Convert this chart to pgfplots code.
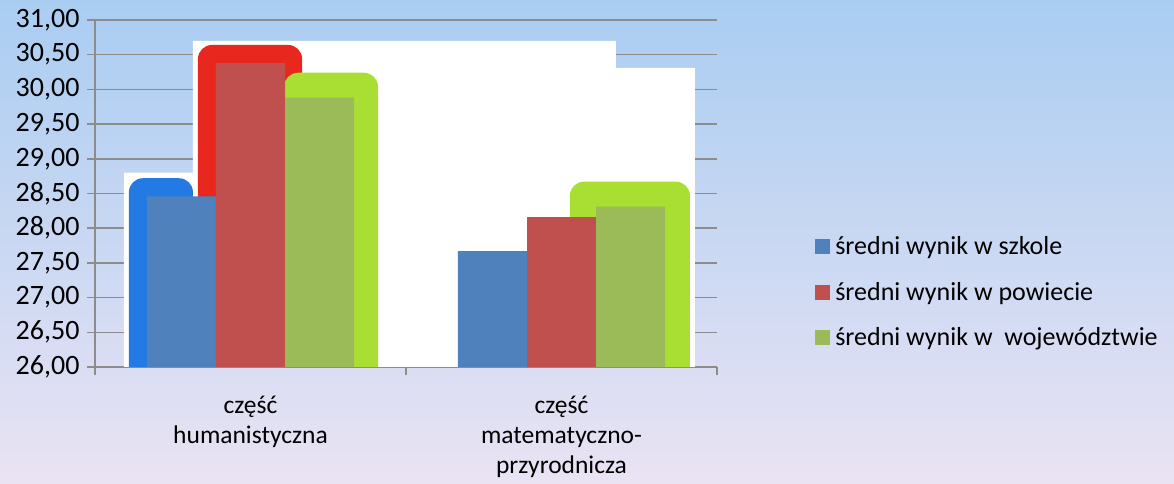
\documentclass[border=0pt]{standalone}
\usepackage{fontspec}
\setmainfont{Carlito}
\usepackage{pgfplots}
\pgfplotsset{compat=1.18}
\definecolor{bgtop}{RGB}{169,205,242}
\definecolor{bgbot}{RGB}{234,227,243}
\definecolor{cblue}{RGB}{79,129,189}
\definecolor{cred}{RGB}{192,80,77}
\definecolor{cgreen}{RGB}{155,187,89}
\definecolor{hblue}{RGB}{36,121,227}
\definecolor{hred}{RGB}{232,39,31}
\definecolor{hgreen}{RGB}{168,223,50}
\definecolor{gridgray}{RGB}{140,140,140}
\begin{document}
\begin{tikzpicture}
\shade[top color=bgtop, bottom color=bgbot] (0,0) rectangle (1174pt,484pt);
\begin{axis}[
  at={(95pt,117pt)}, anchor=south west,
  scale only axis, width=622pt, height=347pt,
  xmin=-0.5, xmax=1.5, ymin=26, ymax=31,
  axis x line*=bottom, axis y line*=left,
  axis line style={-, draw=gridgray, line width=1.5pt},
  ytick distance=0.5,
  xtick={0,1},
  xticklabels={{część\\humanistyczna},{część\\matematyczno-\\przyrodnicza}},
  minor xtick={-0.5,0.5,1.5},
  major x tick style={draw=none},
  tick align=outside,
  major tick length=8pt, minor tick length=8pt,
  tick style={gridgray, line width=1.5pt},
  ymajorgrids,
  grid style={gridgray, line width=1.5pt},
  yticklabel style={font=\fontsize{28}{30}\selectfont, xshift=-4pt,
    /pgf/number format/.cd, fixed, fixed zerofill, precision=2, use comma, assume math mode=true},
  xticklabel style={font=\fontsize{25.5}{30}\selectfont, align=center, yshift=-18pt},
  legend cell align=left,
  legend style={at={(1.157,0.216)}, anchor=west, draw=none, fill=none,
    font=\fontsize{26}{30}\selectfont, row sep=22pt, inner sep=0pt,
    /tikz/every odd column/.append style={column sep=4pt}},
]
% white pasted areas
\addplot[fill=white, draw=none, forget plot] coordinates {(-0.407,25) (-0.407,28.80) (-0.185,28.80) (-0.185,30.70) (1.175,30.70) (1.175,30.31) (1.429,30.31) (1.429,25)} -- cycle;
% highlight shapes
\addplot[fill=hblue, draw=none, rounded corners=14pt, forget plot] coordinates {(-0.391,25) (-0.391,28.72) (-0.185,28.72) (-0.185,25)} -- cycle;
\addplot[fill=hred, draw=none, rounded corners=14pt, forget plot] coordinates {(-0.169,25) (-0.169,30.64) (0.166,30.64) (0.166,25)} -- cycle;
\addplot[fill=hgreen, draw=none, rounded corners=14pt, forget plot] coordinates {(0.108,25) (0.108,30.24) (0.410,30.24) (0.410,25)} -- cycle;
\addplot[fill=hgreen, draw=none, rounded corners=14pt, forget plot] coordinates {(1.027,25) (1.027,28.67) (1.413,28.67) (1.413,25)} -- cycle;
% data bars
\addplot[ybar, bar width=0.2219, bar shift=-0.2219, fill=cblue, draw=none, forget plot] coordinates {(0,28.46) (1,27.67)};
\addplot[ybar, bar width=0.2219, bar shift=0, fill=cred, draw=none, forget plot] coordinates {(0,30.38) (1,28.16)};
\addplot[ybar, bar width=0.2219, bar shift=0.2219, fill=cgreen, draw=none, forget plot] coordinates {(0,29.88) (1,28.31)};
\addlegendimage{legend image code/.code={\fill[cblue] (0pt,-7pt) rectangle (14pt,7pt);}}
\addlegendimage{legend image code/.code={\fill[cred] (0pt,-7pt) rectangle (14pt,7pt);}}
\addlegendimage{legend image code/.code={\fill[cgreen] (0pt,-7pt) rectangle (14pt,7pt);}}
\legend{średni wynik w szkole, średni wynik w powiecie, średni wynik w~ województwie}
\end{axis}
\end{tikzpicture}
\end{document}
